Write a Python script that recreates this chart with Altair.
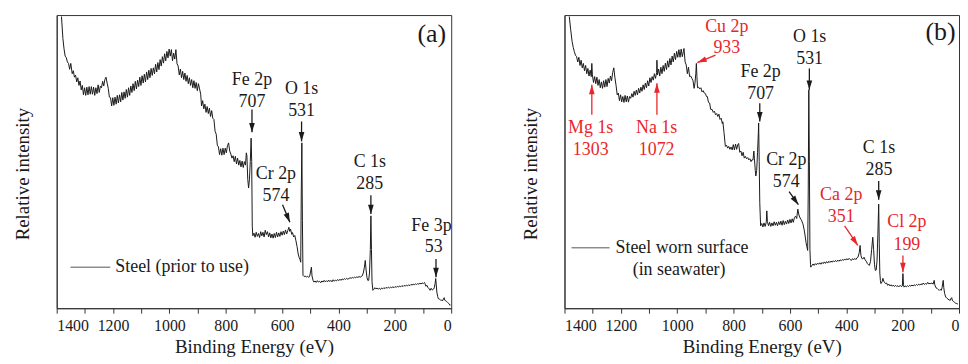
import math
import altair as alt
import pandas as pd

W, H = 397, 295
FONT = "Liberation Serif"
RED = "#e8262b"
INK = "#1a1a1a"

# ---- spectrum (a): (binding energy eV, relative intensity) ----
spec_a = [
    (1383, 99.5), (1378, 92), (1374, 88.5), (1370, 86), (1366, 85.5), (1362, 84), (1358, 83.5),
    (1354, 81.5), (1350, 83.5), (1345, 80), (1341, 81), (1337, 78.8), (1333, 79.5), (1329, 77.2),
    (1325, 78.6), (1321, 76), (1317, 77.5), (1313, 74.5), (1309, 76), (1305, 72.8), (1301, 75.2),
    (1297, 72.6), (1293, 75.4), (1289, 72.8), (1285, 75.6), (1281, 73), (1277, 75.6), (1273, 73),
    (1269, 75.4), (1265, 72.6), (1261, 75.2), (1257, 73.2), (1253, 76.2), (1249, 73.6), (1245, 75.8),
    (1241, 75.2), (1237, 77.4), (1233, 75.8), (1229, 78), (1225, 78.8), (1221, 76.8), (1217, 75),
    (1213, 72), (1209, 71.8), (1205, 69), (1201, 71.8), (1197, 69.2), (1193, 72), (1189, 69.6),
    (1185, 72.6), (1181, 70), (1177, 72.8), (1173, 70.4), (1169, 73.6), (1165, 71), (1161, 73.8),
    (1157, 71.6), (1153, 74.6), (1149, 72), (1145, 75.2), (1141, 72.6), (1137, 75.8), (1133, 73.6),
    (1129, 76.6), (1125, 74.2), (1121, 77.4), (1117, 74.8), (1113, 77.8), (1109, 75.6), (1105, 78.8),
    (1101, 76), (1097, 79.3), (1093, 76.8), (1089, 79.8), (1085, 77.2), (1081, 80.6), (1077, 78),
    (1073, 81.2), (1069, 78.6), (1065, 81.8), (1061, 79.4), (1057, 82), (1053, 80), (1049, 83.2),
    (1045, 80.6), (1041, 83.8), (1037, 81.4), (1033, 84.8), (1029, 82.6), (1025, 85.8), (1021, 83.6),
    (1017, 86.8), (1013, 84.4), (1009, 87.6), (1005, 85.4), (1001, 88.4), (997, 86), (993, 88.2),
    (989, 84.4), (985, 87), (981, 85), (977, 88.2), (973, 83.4), (969, 82.6), (965, 79.6),
    (961, 81.6), (957, 78.6), (953, 80.8), (949, 78), (945, 80.2), (941, 77.4), (937, 79.4),
    (933, 76.6), (929, 78.6), (925, 76), (921, 78), (917, 75.2), (913, 77.6), (909, 75), (905, 77),
    (901, 74.2), (897, 76.6), (893, 74.8), (889, 73), (886, 69), (882, 70.8), (878, 68), (874, 69.6),
    (870, 66.8), (866, 68.8), (862, 66.4), (858, 68.2), (854, 65.4), (850, 67.4), (846, 64.8),
    (842, 64.4), (838, 60.4), (834, 59.4), (830, 55.6), (826, 55), (822, 52.4), (818, 54.4),
    (814, 52.2), (810, 54.6), (806, 52.4), (802, 54.6), (798, 53), (794, 55.4), (790, 56.4),
    (786, 53.6), (782, 52.6), (778, 51.2), (774, 52), (770, 50), (766, 51.8), (762, 49.2),
    (758, 51.2), (754, 48.8), (750, 50.4), (746, 48.2), (742, 50.2), (738, 48), (734, 50),
    (730, 48.8), (727, 53), (725, 52), (722, 44), (719, 41), (716, 44), (713, 50), (710, 58),
    (708, 50), (706, 28), (704, 24.7), (700, 25.6), (696, 24.2), (692, 25.9), (688, 24.5),
    (684, 25.5), (680, 24.1), (676, 26.1), (672, 24.7), (668, 25.9), (664, 24.3), (660, 26.6),
    (656, 25.1), (652, 26.1), (648, 24.3), (644, 25.7), (640, 24), (636, 25.3), (632, 23.9),
    (628, 25.5), (624, 24.1), (620, 25.9), (616, 24.3), (612, 25.7), (608, 24.5), (604, 26.1),
    (600, 24.9), (596, 26.3), (592, 25.1), (588, 26.7), (584, 25.3), (580, 26.5), (576, 27.6),
    (573, 26.2), (570, 27), (566, 25.2), (563, 25.8), (559, 24.3), (555, 24.8), (551, 23),
    (547, 21), (543, 18.5), (540, 17.4), (536, 16.5), (534, 15.7), (532, 40), (530, 56.4),
    (528, 30), (526, 11.2), (522, 10.8), (518, 11), (514, 10.6), (510, 10.9), (506, 10.5),
    (502, 11), (498, 13), (496, 14), (494, 11), (490, 9.4), (487, 8.9), (483, 9.3), (479, 8.8),
    (475, 9.4), (471, 8.9), (467, 9.2), (463, 8.7), (459, 9.3), (455, 8.9), (451, 9.5), (447, 9),
    (443, 9.4), (439, 9), (435, 9.6), (431, 9.1), (427, 9.5), (423, 9), (419, 9.7), (415, 9.2),
    (411, 9.6), (407, 9.3), (403, 9.8), (399, 9.4), (395, 9.9), (391, 9.5), (387, 10), (383, 9.7),
    (379, 10.1), (375, 9.8), (371, 10.2), (367, 9.9), (363, 10.1), (359, 10.4), (355, 10.2),
    (351, 10.5), (347, 10.3), (343, 10.6), (339, 10.4), (335, 10.7), (331, 10.5), (327, 10.8),
    (323, 10.6), (319, 10.8), (316, 11), (312, 12), (308, 14), (305, 16.3), (302, 13), (299, 10.5),
    (296, 9.5), (293, 9.5), (290, 12), (287, 20), (285, 31.5), (283, 20), (281, 9), (278, 6.1),
    (275, 6.4), (271, 7), (267, 6.6), (263, 6.9), (259, 6.5), (255, 6.8), (251, 6.4), (247, 6.9),
    (243, 6.6), (239, 7), (235, 6.7), (231, 7.1), (227, 6.8), (223, 7.2), (219, 6.9), (215, 7.2),
    (211, 7), (207, 7.3), (203, 7), (199, 7.4), (195, 7.1), (191, 7.5), (187, 7.2), (183, 7.6),
    (179, 7.3), (175, 7.7), (171, 7.4), (167, 7.8), (163, 7.5), (159, 7.9), (155, 7.6), (151, 8),
    (147, 7.7), (143, 8.1), (139, 7.9), (135, 8.2), (131, 8), (127, 8.3), (123, 8.1), (119, 8.4),
    (115, 8.2), (111, 8.5), (107, 8.3), (103, 8.6), (99, 8.4), (95, 8.8), (93, 8.4), (90, 7.5),
    (86, 7.8), (82, 7), (78, 6.6), (75, 6.1), (71, 6.8), (67, 6.2), (63, 6.5), (60, 7), (57, 8.5),
    (55, 10.1), (53, 8), (51, 5.5), (48, 4), (46, 3.3), (42, 3.1), (38, 2.8), (34, 2.7), (30, 2.6),
    (27, 3.4), (25, 3.6), (23, 2.8), (20, 2.5), (16, 2.3), (12, 1.9), (8, 1.5), (4, 1.0), (2, 1.2),
]

# ---- spectrum (b) ----
spec_b = [
    (1383, 99.5), (1378, 95), (1373, 91), (1369, 89), (1365, 87.5), (1361, 86.3), (1357, 85.8),
    (1353, 84), (1349, 85.6), (1345, 82.8), (1341, 84.6), (1337, 82), (1333, 83.5), (1329, 81),
    (1325, 82.8), (1321, 80), (1317, 81.8), (1313, 79.2), (1309, 81.2), (1305, 79), (1303, 83.5),
    (1301, 79.6), (1297, 77), (1293, 79), (1289, 76.6), (1285, 78.8), (1281, 76), (1277, 78),
    (1273, 75.2), (1269, 77.2), (1265, 75), (1261, 77.6), (1257, 75.4), (1253, 78), (1249, 75.6),
    (1245, 78.4), (1241, 76.8), (1237, 79.2), (1233, 77.6), (1229, 80.4), (1225, 82), (1221, 78.6),
    (1217, 76), (1213, 72.8), (1209, 73.4), (1205, 70.8), (1201, 72.8), (1197, 70.4), (1193, 72.2),
    (1189, 70.2), (1185, 72.6), (1181, 70.4), (1177, 72.4), (1173, 70.3), (1169, 72.2),
    (1165, 71.6), (1161, 73.2), (1157, 72), (1153, 74), (1149, 72.6), (1145, 74.4), (1141, 72.8),
    (1137, 75), (1133, 73.4), (1129, 75.4), (1125, 74), (1121, 76.2), (1117, 74.6), (1113, 76.8),
    (1109, 75.2), (1105, 77.6), (1101, 75.8), (1097, 78.6), (1093, 77), (1089, 79), (1085, 77.8),
    (1081, 80), (1077, 78.4), (1073, 80.4), (1072, 84.6), (1070, 79.6), (1066, 81.6), (1062, 79.2),
    (1058, 82.2), (1054, 80), (1050, 82.8), (1046, 80.8), (1042, 83.6), (1038, 81.4), (1034, 84.4),
    (1030, 82.2), (1026, 85.2), (1022, 83), (1018, 86), (1014, 84), (1010, 87), (1006, 84.8),
    (1002, 87.6), (998, 85.6), (994, 88.2), (990, 85.6), (986, 88.4), (982, 85.8), (978, 87.6),
    (976, 88.6), (972, 84), (968, 83), (964, 80), (960, 82.2), (956, 79), (952, 79.2), (948, 78.4),
    (944, 77.6), (940, 75), (937, 76.8), (934, 80), (932, 83.5), (930, 79), (928, 75.2),
    (924, 75.4), (920, 74.8), (916, 75.2), (912, 73.8), (908, 74.2), (904, 73.4), (900, 73.2),
    (896, 72.2), (893, 72.2), (889, 70.2), (885, 70), (881, 67.8), (876, 67.8), (872, 66.8),
    (868, 67.2), (864, 66), (860, 66.4), (856, 65.4), (852, 66.2), (848, 64.4), (844, 64.8),
    (840, 63), (838, 63.6), (834, 60), (831, 57), (829, 55.2), (825, 55.6), (821, 54.6),
    (817, 55.2), (813, 54.2), (809, 55), (805, 54), (801, 55.8), (797, 54), (793, 56), (789, 54.2),
    (785, 55.8), (782, 56.2), (778, 53.2), (774, 53.6), (770, 52), (766, 53.2), (762, 51.2),
    (758, 51.8), (754, 51), (750, 51.4), (746, 50.6), (742, 51), (738, 50), (735, 50.6),
    (731, 50.6), (728, 53.6), (726, 51), (723, 47), (721, 45.1), (718, 47), (715, 53), (712, 60),
    (711, 63.2), (709, 50), (707, 36), (704, 28.1), (700, 28.9), (696, 27.7), (692, 29.1),
    (688, 27.9), (684, 29.3), (682, 33.2), (680, 29.6), (676, 28.1), (672, 29.3), (668, 27.9),
    (664, 29.1), (660, 28.1), (656, 29.5), (652, 28.3), (648, 29.3), (644, 28.1), (640, 29.5),
    (636, 28.5), (632, 29.7), (628, 28.3), (624, 29.9), (620, 28.5), (616, 29.7), (612, 28.7),
    (608, 30.1), (604, 28.9), (600, 30.3), (596, 29.1), (592, 30.5), (588, 29.3), (584, 30.9),
    (580, 31.4), (576, 30.6), (572, 33.8), (568, 31.8), (564, 30.8), (560, 30.2), (558, 29.8),
    (554, 28.8), (550, 27), (547, 25.3), (543, 22.5), (540, 21), (537, 19.7), (535, 40),
    (533, 74.5), (531, 50), (529, 20), (527, 15), (526, 14), (522, 14.6), (518, 15.1), (514, 14.6),
    (510, 15.2), (506, 14.8), (502, 15.4), (498, 15), (494, 15.5), (490, 15), (486, 15.6),
    (482, 15.2), (478, 15.8), (474, 15.3), (470, 15.9), (466, 15.4), (462, 16), (458, 15.6),
    (454, 16.1), (450, 15.7), (446, 16.2), (442, 15.8), (438, 16.3), (434, 15.9), (430, 16.4),
    (426, 16), (422, 16.5), (418, 16.2), (414, 16.6), (410, 16.3), (406, 16.8), (402, 16.4),
    (398, 16.9), (394, 16.5), (390, 17), (386, 16.6), (382, 16.3), (378, 16.9), (374, 16.5),
    (370, 17), (366, 16.6), (362, 17.2), (358, 17.5), (354, 19), (351, 21.4), (348, 18), (345, 17),
    (341, 16.8), (337, 17.4), (333, 16.5), (329, 16), (325, 15.2), (321, 14.8), (318, 14.6),
    (314, 16), (310, 20), (306, 24.2), (303, 20), (300, 15), (297, 12.9), (294, 13), (291, 16),
    (288, 25), (285, 35.5), (283, 22), (281, 12), (279, 9.5), (277, 8.4), (273, 9), (270, 10.2),
    (267, 9.2), (265, 8.9), (261, 8.4), (257, 8.6), (253, 7.8), (249, 8.2), (245, 7.6), (241, 8),
    (237, 7.5), (233, 7.9), (229, 7.4), (225, 7.8), (221, 7.4), (217, 7.7), (213, 7.3), (209, 7.8),
    (205, 7.4), (201, 7.6), (199, 11.8), (197, 8), (195, 7.2), (191, 7.6), (187, 7.3), (183, 7.7),
    (179, 7.4), (175, 7.8), (171, 7.5), (167, 7.9), (163, 7.6), (159, 8), (155, 7.7), (151, 8.1),
    (147, 7.8), (143, 8.2), (139, 7.9), (135, 8.3), (131, 8), (127, 8.6), (123, 8.1), (119, 8.4),
    (115, 8.2), (111, 8.8), (107, 8.3), (103, 8.5), (100, 8.4), (96, 8.6), (92, 8.2), (88, 9.5),
    (86, 8), (82, 7), (78, 6.8), (74, 6.4), (70, 6.1), (67, 6.4), (63, 6.1), (60, 7), (58, 8.5),
    (56, 9.5), (54, 7), (51, 5), (47, 3.8), (43, 3.4), (39, 3.1), (35, 2.8), (31, 2.7), (28, 3.4),
    (26, 3.6), (24, 2.8), (20, 2.3), (16, 2), (12, 1.7), (8, 1.6), (4, 1.4),
]

# ---- peak labels: (text, BE, intensity, color) ----
labels_a = [
    ("Fe 2p", 707, 78, INK), ("707", 707, 70.5, INK),
    ("O 1s", 531, 74.7, INK), ("531", 531, 67.1, INK),
    ("Cr 2p", 622, 45.7, INK), ("574", 622, 38.3, INK),
    ("C 1s", 289, 49.8, INK), ("285", 289, 42.5, INK),
    ("Fe 3p", 70, 28.1, INK), ("53", 62, 20.8, INK),
]
labels_b = [
    ("Mg 1s", 1307, 61.5, RED), ("1303", 1307, 53.9, RED),
    ("Na 1s", 1073, 61.5, RED), ("1072", 1073, 53.9, RED),
    ("Cu 2p", 824, 95.9, RED), ("933", 824, 88.6, RED),
    ("Fe 2p", 704, 80.7, INK), ("707", 704, 73.1, INK),
    ("O 1s", 530, 92.5, INK), ("531", 530, 85.0, INK),
    ("Cr 2p", 613, 50.7, INK), ("574", 613, 43.2, INK),
    ("C 1s", 284, 54.7, INK), ("285", 284, 47.0, INK),
    ("Ca 2p", 418, 38.6, RED), ("351", 418, 31.0, RED),
    ("Cl 2p", 185, 29.3, RED), ("199", 185, 21.7, RED),
]

# ---- arrows: (BE start, I start, BE tip, I tip, color) ----
arrows_a = [
    (707, 67.8, 707, 60.0, INK),
    (531, 63.7, 531, 56.9, INK),
    (598.5, 35.3, 572.5, 29.3, INK),
    (285, 38.5, 285, 32.1, INK),
    (54, 16.8, 54, 10.6, INK),
]
arrows_b = [
    (1303, 66.0, 1303, 76.2, RED),
    (1072, 66.0, 1072, 76.7, RED),
    (864, 86.3, 928.6, 83.8, RED),
    (707, 69.9, 707, 63.7, INK),
    (531, 81.8, 531, 74.5, INK),
    (603, 39.8, 570, 35.3, INK),
    (285, 43.4, 285, 37.0, INK),
    (406, 28.1, 359, 21.4, RED),
    (199, 18.0, 199, 12.3, RED),
]

# ---- legend: line segment (BE0, BE1, I) and texts (text, BE, I) ----
legend_seg_a = (1351, 1210, 14.0)
legend_txt_a = [("Steel (prior to use)", 1192, 14.0)]
legend_seg_b = (1375, 1240, 20.6)
legend_txt_b = [("Steel worn surface", 1219, 20.6), ("(in seawater)", 1158, 13.1)]

tag_a = ("(a)", 18, 93.5)
tag_b = ("(b)", 12, 94.2)

XDOM = [1400, 0]
YDOM = [0, 100]
XTICKS = list(range(0, 1401, 100))
XTITLE = "Binding Energy (eV)"
YTITLE = "Relative intensity"
ARROW_PATH = "M0,0L-0.6,-2L0.6,-2Z"

XAX = alt.Axis(values=XTICKS, format="d",
               labelExpr="datum.value % 200 == 0 ? datum.label : ''",
               tickSize=5, labelPadding=4, titlePadding=5, grid=False)
YAX = alt.Axis(labels=False, ticks=False, grid=False, titlePadding=24, titleY=H / 2 + 12)
XS = alt.Scale(domain=XDOM, nice=False, zero=False)
YS = alt.Scale(domain=YDOM, nice=False, zero=False)


def X(field):
    return alt.X(field, type="quantitative", scale=XS, axis=XAX, title=XTITLE)


def Y(field):
    return alt.Y(field, type="quantitative", scale=YS, axis=YAX, title=YTITLE)


def head_angle(b0, i0, b1, i1):
    dx = (b0 - b1) * W / 1400.0
    dy = (i0 - i1) * H / 100.0
    return (-math.degrees(math.atan2(dx, dy))) % 360


def panel(spec, labels, arrows, seg, ltxt, tag):
    df = pd.DataFrame(spec, columns=["be", "inten"])
    df["idx"] = range(len(df))
    line = alt.Chart(df).mark_line(color=INK, strokeWidth=1, clip=True).encode(
        x=X("be"), y=Y("inten"), order=alt.Order("idx:Q"),
    )

    ldf = pd.DataFrame(labels, columns=["text", "be", "inten", "color"])
    txt = alt.Chart(ldf).mark_text(font=FONT, fontSize=18, align="center", baseline="middle").encode(
        x=X("be"), y=Y("inten"), text="text:N", color=alt.Color("color:N", scale=None),
    )

    adf = pd.DataFrame(arrows, columns=["b0", "i0", "b1", "i1", "color"])
    adf["ang"] = [head_angle(r.b0, r.i0, r.b1, r.i1) for r in adf.itertuples()]
    shafts = alt.Chart(adf).mark_rule(strokeWidth=1.3).encode(
        x=X("b0"), x2="b1:Q", y=Y("i0"), y2="i1:Q",
        color=alt.Color("color:N", scale=None),
    )
    heads = alt.Chart(adf).mark_point(shape=ARROW_PATH, filled=True, size=90, opacity=1).encode(
        x=X("b1"), y=Y("i1"),
        angle=alt.Angle("ang:Q", scale=None),
        color=alt.Color("color:N", scale=None),
    )

    sdf = pd.DataFrame([seg], columns=["b0", "b1", "inten"])
    lseg = alt.Chart(sdf).mark_rule(color="#555", strokeWidth=1).encode(
        x=X("b0"), x2="b1:Q", y=Y("inten"),
    )
    tdf = pd.DataFrame(ltxt, columns=["text", "be", "inten"])
    ltext = alt.Chart(tdf).mark_text(font=FONT, fontSize=18, align="left", baseline="middle",
                                     color=INK).encode(
        x=X("be"), y=Y("inten"), text="text:N",
    )
    gdf = pd.DataFrame([tag], columns=["text", "be", "inten"])
    gtext = alt.Chart(gdf).mark_text(font=FONT, fontSize=26, align="right", baseline="middle",
                                     color=INK).encode(
        x=X("be"), y=Y("inten"), text="text:N",
    )
    return alt.layer(line, lseg, ltext, shafts, heads, txt, gtext).properties(width=W, height=H)


pa = panel(spec_a, labels_a, arrows_a, legend_seg_a, legend_txt_a, tag_a)
pb = panel(spec_b, labels_b, arrows_b, legend_seg_b, legend_txt_b, tag_b)

chart = alt.hconcat(pa, pb, spacing=69).properties(
    padding={"left": 5, "top": 5, "right": 0, "bottom": 0}
).configure_view(stroke="#333", strokeWidth=1).configure_axis(
    labelFont=FONT, labelFontSize=16, labelColor=INK,
    titleFont=FONT, titleFontSize=19, titleFontWeight="normal", titleColor=INK,
    domainColor="#333", tickColor="#333",
)

chart.save("out.html", embed_options={"renderer": "svg", "actions": False})
